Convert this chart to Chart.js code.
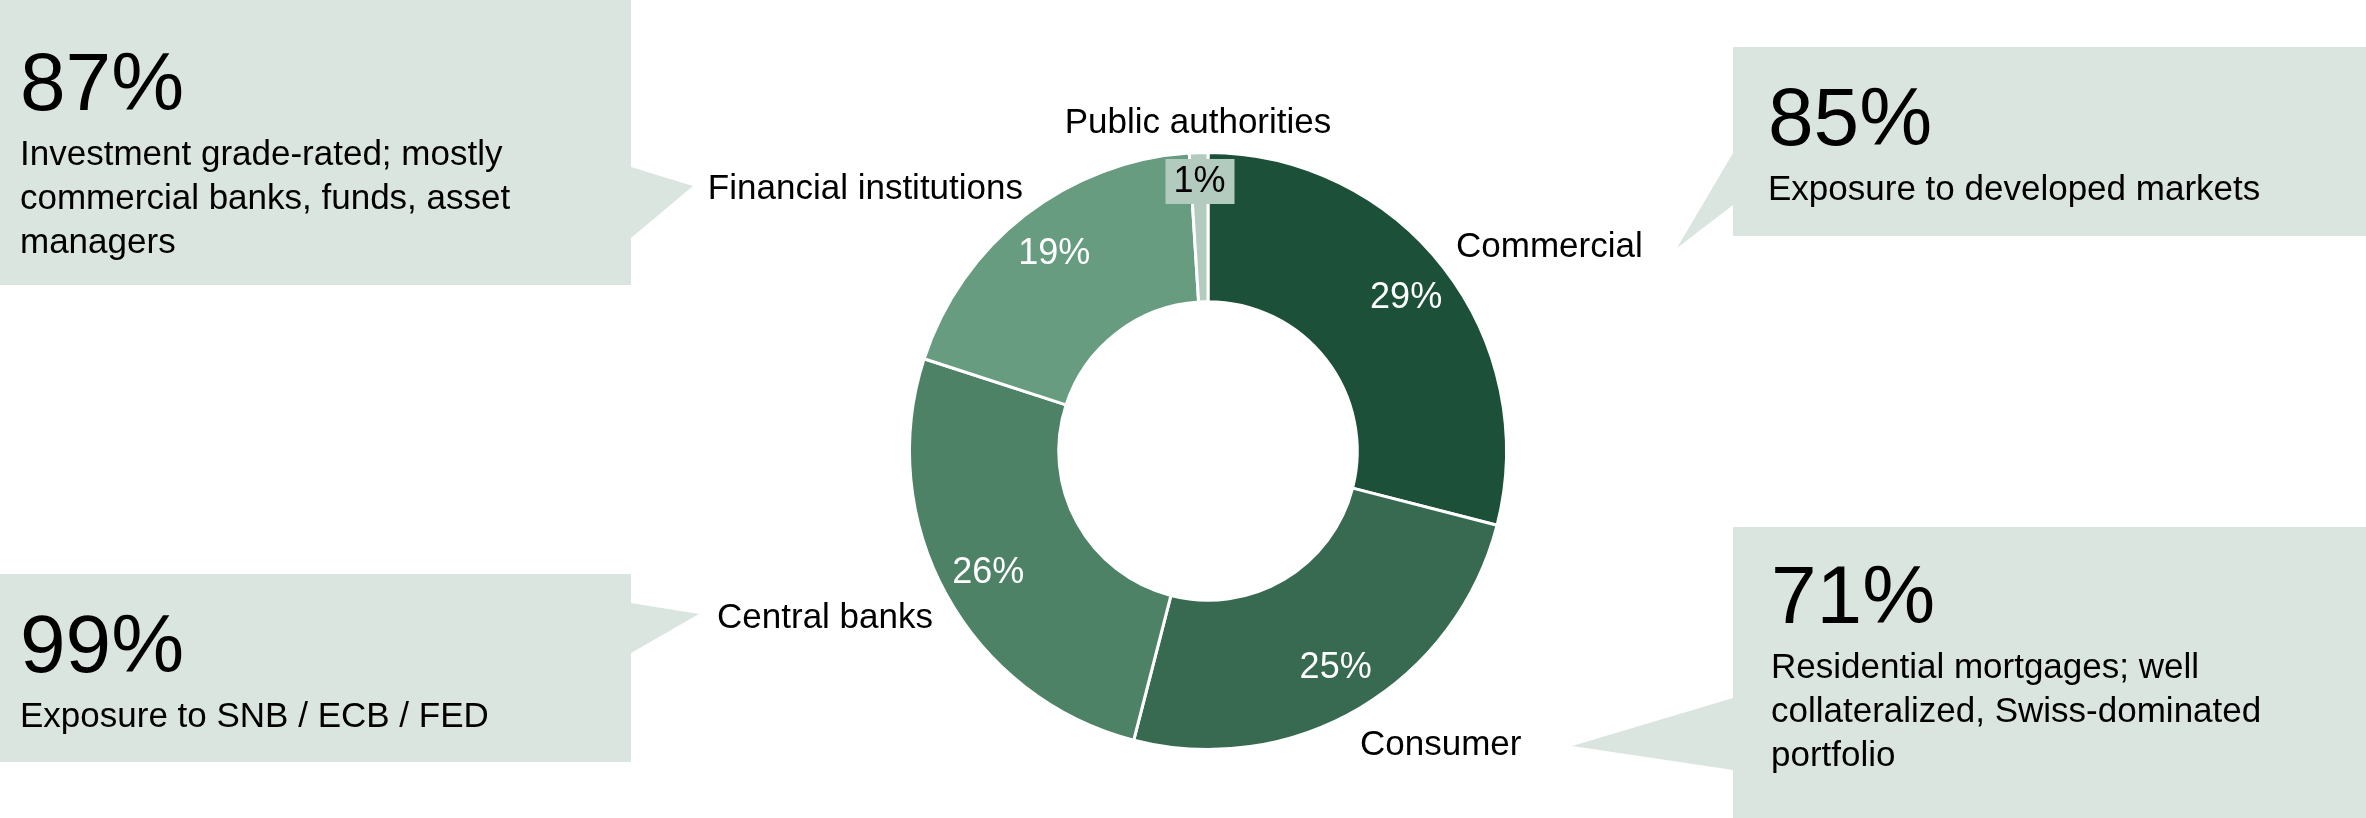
<!DOCTYPE html>
<html>
<head>
<meta charset="utf-8">
<title>Exposure by counterparty</title>
<script src="https://cdn.jsdelivr.net/npm/chart.js@4.4.1/dist/chart.umd.min.js"></script>
<style>
  html, body { margin: 0; padding: 0; background: #ffffff; }
  #wrap { position: relative; width: 2366px; height: 818px; }
</style>
</head>
<body>
<div id="wrap"><canvas id="exposureChart"></canvas></div>
<script>
// Segments, clockwise from 12 o'clock, with their shares in %
const segments = ['Commercial', 'Consumer', 'Central banks', 'Financial institutions', 'Public authorities'];
const shares = [29, 25, 26, 19, 1];
const segmentColors = ['#1c5039', '#376a50', '#4d8267', '#679c81', '#b3cbbf'];

// Callout headline figures and description lines
const calloutFigures = ['87%', '85%', '99%', '71%'];
const calloutLines = [
  ['Investment grade-rated; mostly', 'commercial banks, funds, asset', 'managers'],
  ['Exposure to developed markets'],
  ['Exposure to SNB / ECB / FED'],
  ['Residential mortgages; well', 'collateralized, Swiss-dominated', 'portfolio']
];

const FONT = '"Liberation Sans", Arial, Helvetica, sans-serif';
const CALLOUT_BG = '#dbe5e0';

// Box rectangles, pointer triangles and text anchors for each callout
const calloutLayout = [
  { box: [0, 0, 631, 285], pointer: [[631, 167], [693, 186], [631, 238]], x: 20, figY: 110, lineY: 165 },
  { box: [1733, 47, 2366, 236], pointer: [[1733, 153], [1677, 248], [1733, 205]], x: 1768, figY: 145, lineY: 200 },
  { box: [0, 574, 631, 762], pointer: [[631, 603], [699, 614], [631, 653]], x: 20, figY: 672, lineY: 727 },
  { box: [1733, 527, 2366, 818], pointer: [[1733, 698], [1572, 746], [1733, 770]], x: 1771, figY: 623, lineY: 678 }
];

// Category name anchors, offset from the ring centre
const nameOffsets = [
  { dx: 248, dy: -194, align: 'left' },
  { dx: 152, dy: 304, align: 'left' },
  { dx: -275, dy: 177, align: 'right' },
  { dx: -185, dy: -252, align: 'right' },
  { dx: -10, dy: -318, align: 'center' }
];

const calloutPlugin = {
  id: 'callouts',
  beforeDraw(chart) {
    const ctx = chart.ctx;
    ctx.save();
    calloutLayout.forEach((c, i) => {
      ctx.fillStyle = CALLOUT_BG;
      const [x0, y0, x1, y1] = c.box;
      ctx.fillRect(x0, y0, x1 - x0, y1 - y0);
      ctx.beginPath();
      ctx.moveTo(c.pointer[0][0], c.pointer[0][1]);
      ctx.lineTo(c.pointer[1][0], c.pointer[1][1]);
      ctx.lineTo(c.pointer[2][0], c.pointer[2][1]);
      ctx.closePath();
      ctx.fill();

      ctx.fillStyle = '#000000';
      ctx.textAlign = 'left';
      ctx.textBaseline = 'alphabetic';
      ctx.font = '82px ' + FONT;
      ctx.fillText(calloutFigures[i], c.x, c.figY);
      ctx.font = '35px ' + FONT;
      calloutLines[i].forEach((line, j) => {
        ctx.fillText(line, c.x, c.lineY + j * 44);
      });
    });
    ctx.restore();
  }
};

const sliceLabelPlugin = {
  id: 'sliceLabels',
  afterDatasetsDraw(chart) {
    const ctx = chart.ctx;
    const arcs = chart.getDatasetMeta(0).data;
    ctx.save();
    ctx.textBaseline = 'middle';
    arcs.forEach((arc, i) => {
      const p = arc.getProps(['x', 'y', 'startAngle', 'endAngle', 'innerRadius', 'outerRadius'], true);
      const mid = (p.startAngle + p.endAngle) / 2;
      const small = shares[i] < 3;
      const r = p.innerRadius + (p.outerRadius - p.innerRadius) * (small ? 0.81 : 0.68);
      const lx = p.x + Math.cos(mid) * r;
      const ly = p.y + Math.sin(mid) * r;
      const text = shares[i] + '%';
      ctx.font = '36px ' + FONT;
      ctx.textAlign = 'center';
      if (small) {
        // tiny slice: value sits on a tag in the slice colour
        ctx.fillStyle = segmentColors[i];
        ctx.fillRect(lx - 34, ly - 22, 69, 45);
        ctx.fillStyle = '#000000';
      } else {
        ctx.fillStyle = '#ffffff';
      }
      ctx.fillText(text, lx, ly + 1);

      // category name outside the ring
      const o = nameOffsets[i];
      ctx.fillStyle = '#000000';
      ctx.font = '35px ' + FONT;
      ctx.textAlign = o.align;
      ctx.textBaseline = 'alphabetic';
      ctx.fillText(segments[i], p.x + o.dx, p.y + o.dy);
      ctx.textBaseline = 'middle';
    });
    ctx.restore();
  }
};

new Chart(document.getElementById('exposureChart'), {
  type: 'doughnut',
  data: {
    labels: segments,
    datasets: [{
      data: shares,
      backgroundColor: segmentColors,
      borderColor: '#ffffff',
      borderWidth: 3,
      hoverOffset: 0
    }]
  },
  options: {
    responsive: true,
    maintainAspectRatio: false,
    devicePixelRatio: 1,
    animation: false,
    cutout: '50%',
    layout: { padding: { left: 908, right: 858, top: 151, bottom: 67 } },
    plugins: {
      legend: { display: false },
      tooltip: { enabled: false }
    }
  },
  plugins: [calloutPlugin, sliceLabelPlugin]
});
</script>
</body>
</html>
